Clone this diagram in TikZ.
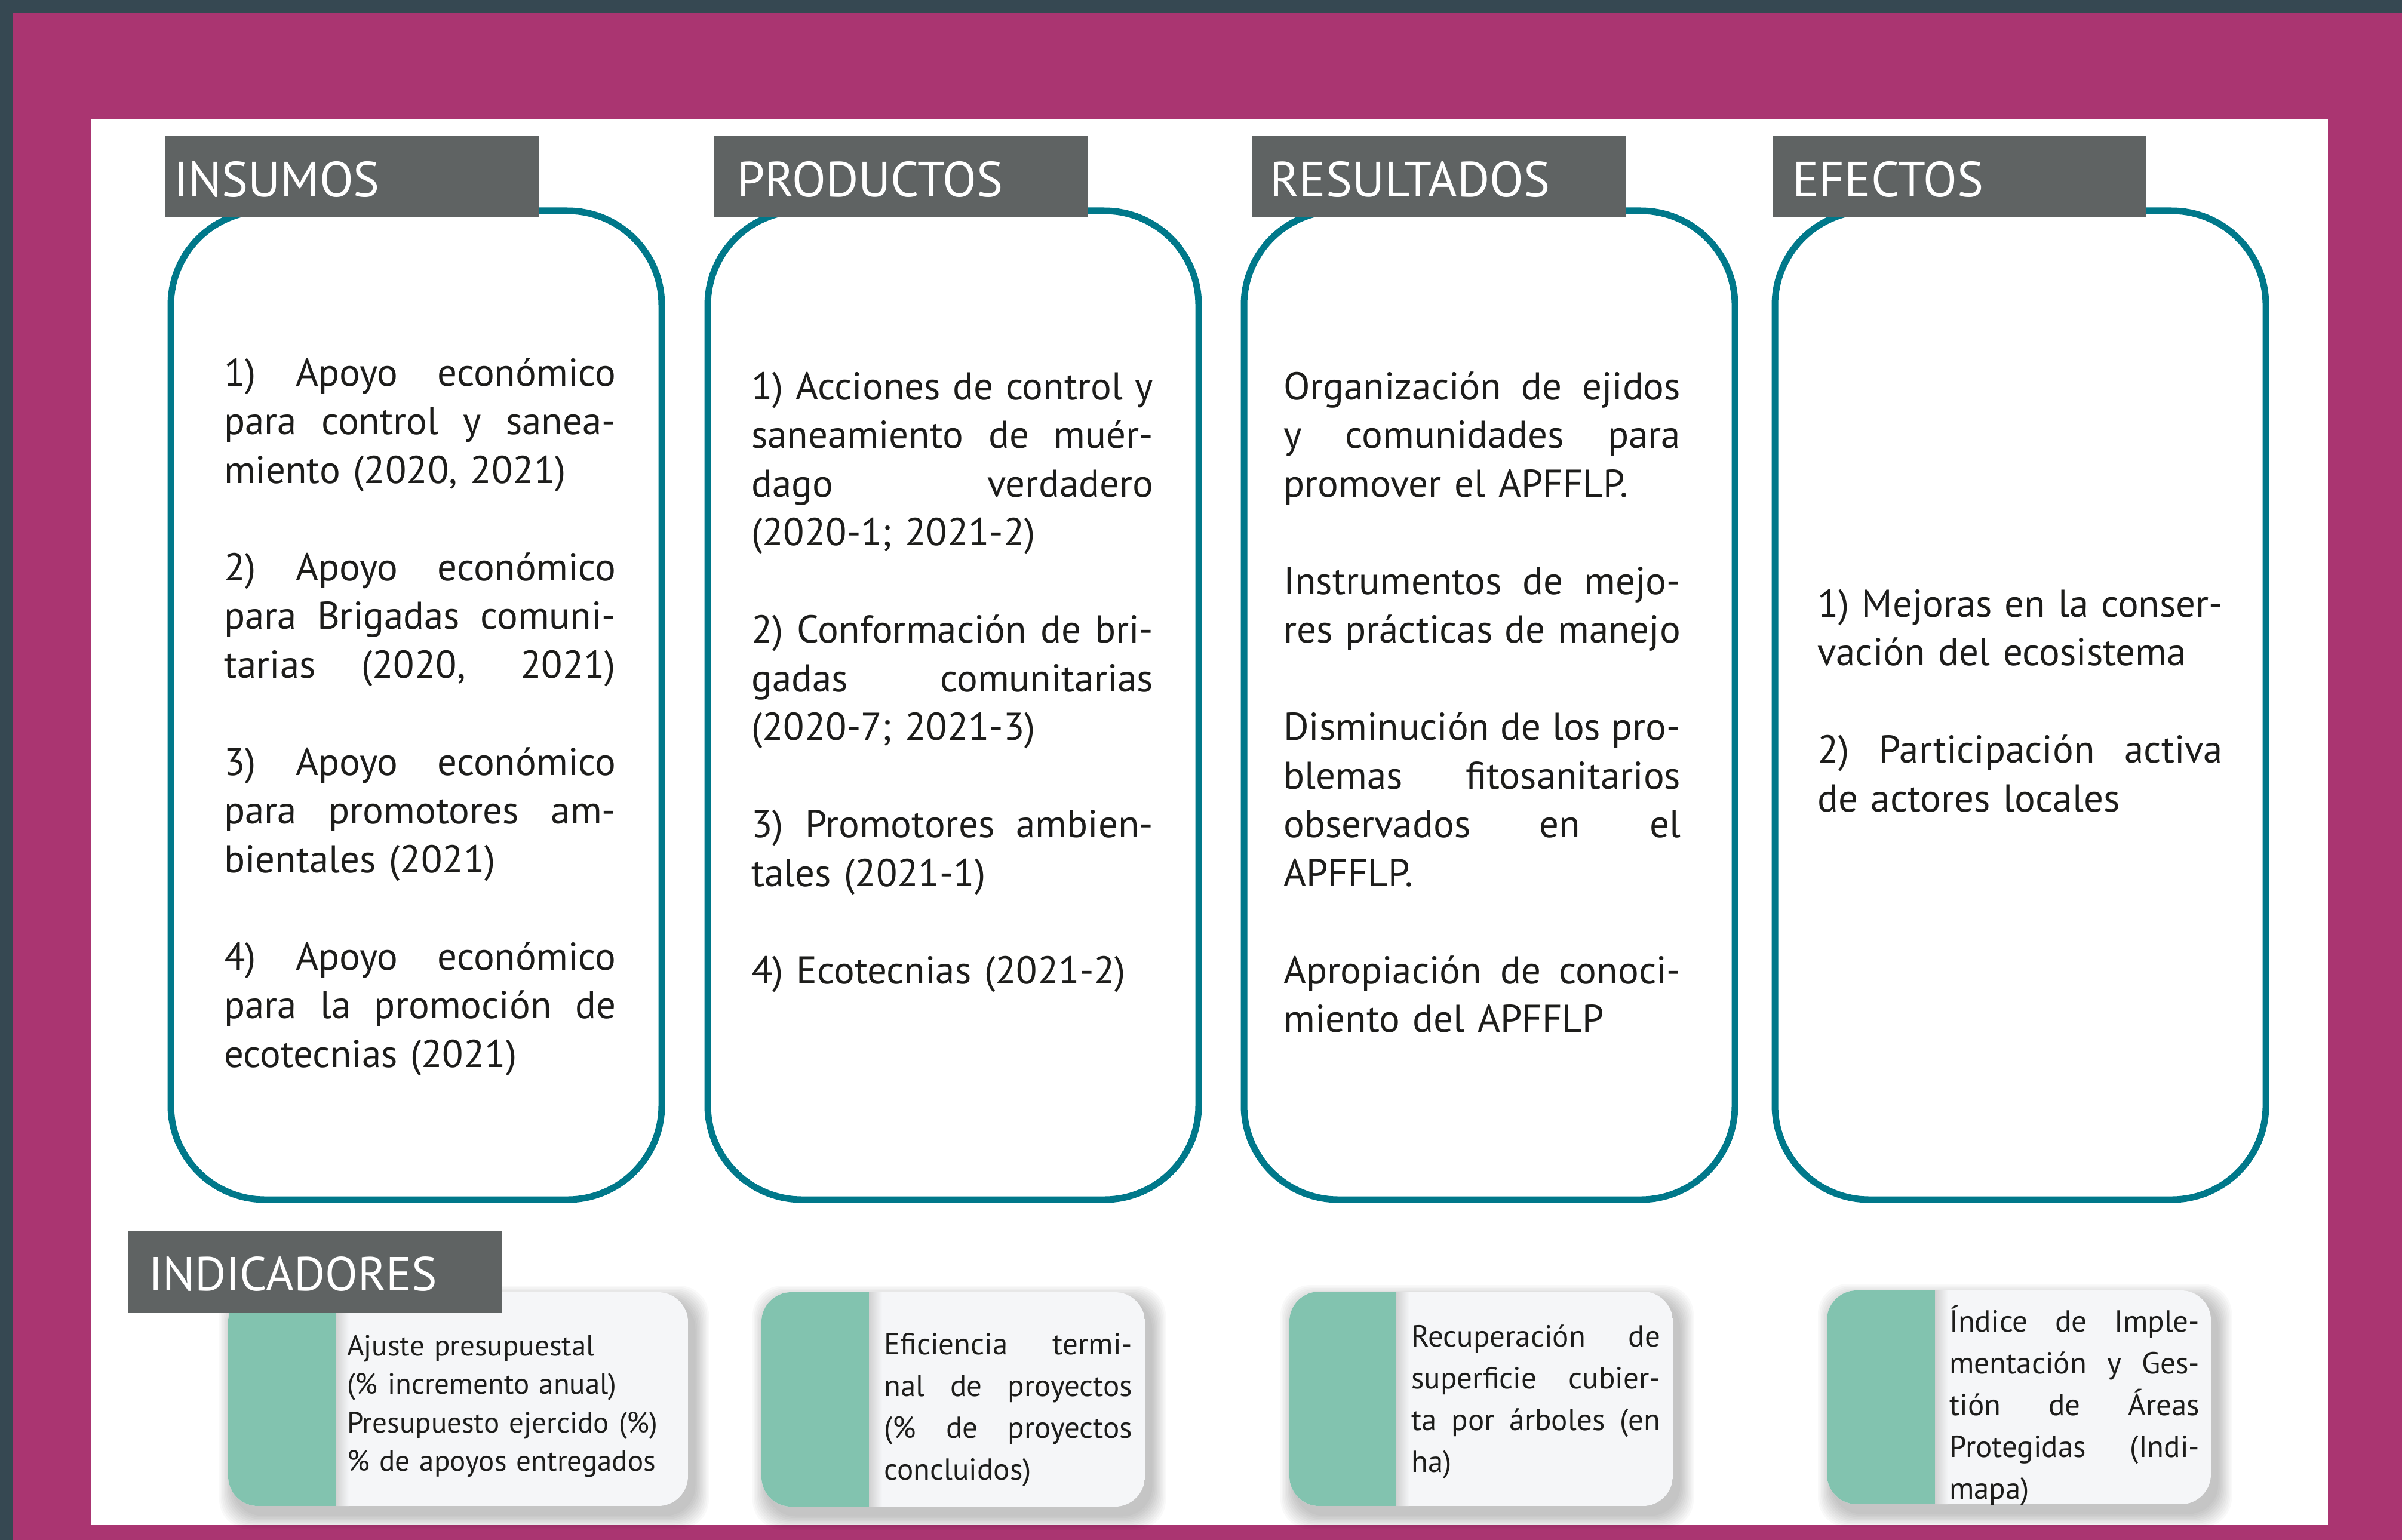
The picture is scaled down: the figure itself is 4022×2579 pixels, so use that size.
\documentclass[tikz,border=0pt]{standalone}
\usepackage{fontspec}
\setmainfont{PT Sans}
\usetikzlibrary{positioning}

\definecolor{fondo}{HTML}{364852}
\definecolor{marco}{HTML}{AA3571}
\definecolor{encab}{HTML}{5F6363}
\definecolor{linea}{HTML}{00788A}
\definecolor{verde}{HTML}{82C3AF}
\definecolor{tarjeta}{HTML}{F5F6F8}
\definecolor{texto}{HTML}{1D1D1B}

% one line stretched to the column width, one line at its own width, an empty line
\newcommand{\justa}[1]{\hbox to \hsize{\spaceskip=.25em plus 1fill\relax #1}\par}
\newcommand{\libre}[1]{\hbox{#1}\par}
\newcommand{\vacio}{\hbox{}\par}

% indicator card: x left, x end of green band, x right, y top, y bottom
\newcommand{\tarjeta}[5]{%
  \foreach \s in {1,...,10}
    \fill[black,opacity=0.022,rounded corners=50pt]
      (#1+10-\s*2.5,#4+14-\s*2.5) rectangle (#3+10+\s*2.5,#5+14+\s*2.5);
  \begin{scope}
    \clip[rounded corners=50pt] (#1,#4) rectangle (#3,#5);
    \fill[tarjeta] (#1,#4) rectangle (#3,#5);
    \fill[verde] (#1,#4) rectangle (#2,#5);
    \shade[left color=black!18,right color=tarjeta] (#2,#4) rectangle (#2+22,#5);
  \end{scope}}

\begin{document}
\begin{tikzpicture}[x=1pt,y=-1pt,
    columna/.style={draw=linea,line width=11pt,rounded corners=158pt},
    encabezado/.style={fill=encab,anchor=north west,inner sep=0pt,
      text width=626pt,text height=101pt,text depth=35pt,align=left,
      text=white,font=\fontsize{83}{90}\selectfont},
    cuerpo/.style={anchor=base west,inner sep=0pt,text=texto,
      font=\fontsize{65}{81.5}\selectfont},
    indicador/.style={anchor=base west,inner sep=0pt,text=texto,
      font=\fontsize{51}{70}\selectfont}]
  \useasboundingbox (0,0) rectangle (4022,2579);
  \fill[fondo] (0,0) rectangle (4022,2579);
  \fill[marco] (22,22) rectangle (4022,2579);
  \fill[white] (153,200) rectangle (3898,2554);

  % columns
  \draw[columna] (286,353) rectangle (1108,2009);
  \draw[columna] (1185,353) rectangle (2007,2009);
  \draw[columna] (2083,353) rectangle (2905,2009);
  \draw[columna] (2972,353) rectangle (3794,2009);

  \node[encabezado] (insumos) at (277,228) {\hspace*{14pt}INSUMOS};
  \node[encabezado] (productos) at (1195,228) {\hspace*{39pt}PRODUCTOS};
  \node[encabezado] (resultados) at (2096,228) {\hspace*{30pt}RESULTADOS};
  \node[encabezado] (efectos) at (2968,228) {\hspace*{33pt}EFECTOS};

  \node[cuerpo,text width=656pt] (txtinsumos) at (375,646) {%
    \justa{1) Apoyo económico}
    \justa{para control y sanea-}
    \libre{miento (2020, 2021)}
    \vacio
    \justa{2) Apoyo económico}
    \justa{para Brigadas comuni-}
    \justa{tarias (2020, 2021)}
    \vacio
    \justa{3) Apoyo económico}
    \justa{para promotores am-}
    \libre{bientales (2021)}
    \vacio
    \justa{4) Apoyo económico}
    \justa{para la promoción de}
    \libre{ecotecnias (2021)}};

  \node[cuerpo,text width=673pt] (txtproductos) at (1258,669) {%
    \justa{1) Acciones de control y}
    \justa{saneamiento de muér-}
    \justa{dago verdadero}
    \libre{(2020-1; 2021-2)}
    \vacio
    \justa{2) Conformación de bri-}
    \justa{gadas comunitarias}
    \libre{(2020-7; 2021-3)}
    \vacio
    \justa{3) Promotores ambien-}
    \libre{tales (2021-1)}
    \vacio
    \libre{4) Ecotecnias (2021-2)}};

  \node[cuerpo,text width=665pt] (txtresultados) at (2149,669) {%
    \justa{Organización de ejidos}
    \justa{y comunidades para}
    \libre{promover el APFFLP.}
    \vacio
    \justa{Instrumentos de mejo-}
    \justa{res prácticas de manejo}
    \vacio
    \justa{Disminución de los pro-}
    \justa{blemas fitosanitarios}
    \justa{observados en el}
    \libre{APFFLP.}
    \vacio
    \justa{Apropiación de conoci-}
    \libre{miento del APFFLP}};

  \node[cuerpo,text width=679pt] (txtefectos) at (3043,1033) {%
    \justa{1) Mejoras en la conser-}
    \libre{vación del ecosistema}
    \vacio
    \justa{2) Participación activa}
    \libre{de actores locales}};

  % indicators
  \tarjeta{382}{562}{1152}{2164}{2522}
  \tarjeta{1275}{1455}{1917}{2164}{2523}
  \tarjeta{2159}{2338}{2801}{2163}{2522}
  \tarjeta{3059}{3240}{3702}{2161}{2519}

  \node[encabezado,font=\fontsize{80}{90}\selectfont,text height=99pt,text depth=38pt]
    (indicadores) at (215,2062) {\hspace*{34pt}INDICADORES};

  \node[indicador,font=\fontsize{49}{64.6}\selectfont,text width=560pt] (ind1) at (581,2270) {%
    \libre{Ajuste presupuestal}
    \libre{(\% incremento anual)}
    \libre{Presupuesto ejercido (\%)}
    \libre{\% de apoyos entregados}};
  \node[indicador,text width=416pt] (ind2) at (1480,2268) {%
    \justa{Eficiencia termi-}
    \justa{nal de proyectos}
    \justa{(\% de proyectos}
    \libre{concluidos)}};
  \node[indicador,text width=417pt] (ind3) at (2363,2255) {%
    \justa{Recuperación de}
    \justa{superficie cubier-}
    \justa{ta por árboles (en}
    \libre{ha)}};
  \node[indicador,text width=419pt] (ind4) at (3264,2230) {%
    \justa{Índice de Imple-}
    \justa{mentación y Ges-}
    \justa{tión de Áreas}
    \justa{Protegidas (Indi-}
    \libre{mapa)}};
\end{tikzpicture}
\end{document}
